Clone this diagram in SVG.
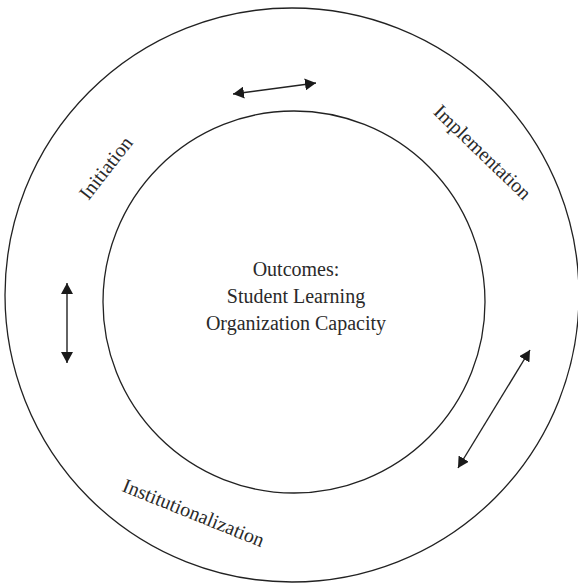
<svg xmlns="http://www.w3.org/2000/svg" width="578" height="583" viewBox="0 0 578 583">
<style>
.ring{fill:none;stroke:#222;stroke-width:1.3}
.conn{stroke:#222;stroke-width:1.4;fill:none}
.lbl{font-family:"Liberation Serif","DejaVu Serif",serif;font-size:20px;fill:#2a2a2a}
.ctr{font-family:"Liberation Serif","DejaVu Serif",serif;font-size:20px;fill:#2a2a2a;text-anchor:middle}
</style>
<defs>
<marker id="ah" viewBox="0 0 11 12" refX="11" refY="6" markerWidth="11" markerHeight="12" markerUnits="userSpaceOnUse" orient="auto-start-reverse">
<path d="M0,0 L11,6 L0,12 Z" fill="#1a1a1a"/>
</marker>
</defs>
<rect width="578" height="583" fill="#fff"/>
<g id="outer-ring">
<circle class="ring" cx="292" cy="295" r="287"/>
<text class="lbl" text-anchor="middle" transform="translate(111,172) rotate(-52)">Initiation</text>
<text class="lbl" text-anchor="middle" transform="translate(478,157) rotate(44)">Implementation</text>
<text class="lbl" text-anchor="middle" transform="translate(191,519) rotate(22)">Institutionalization</text>
</g>
<g id="outcomes">
<circle class="ring" cx="294" cy="302" r="191"/>
<text class="ctr" x="296" y="276">Outcomes:</text>
<text class="ctr" x="296" y="303">Student Learning</text>
<text class="ctr" x="296" y="330">Organization Capacity</text>
</g>
<g id="connectors">
<line class="conn" x1="233" y1="94" x2="316" y2="83" marker-start="url(#ah)" marker-end="url(#ah)"/>
<line class="conn" x1="67" y1="283" x2="67" y2="363" marker-start="url(#ah)" marker-end="url(#ah)"/>
<line class="conn" x1="530" y1="350" x2="458" y2="468" marker-start="url(#ah)" marker-end="url(#ah)"/>
</g>
</svg>
